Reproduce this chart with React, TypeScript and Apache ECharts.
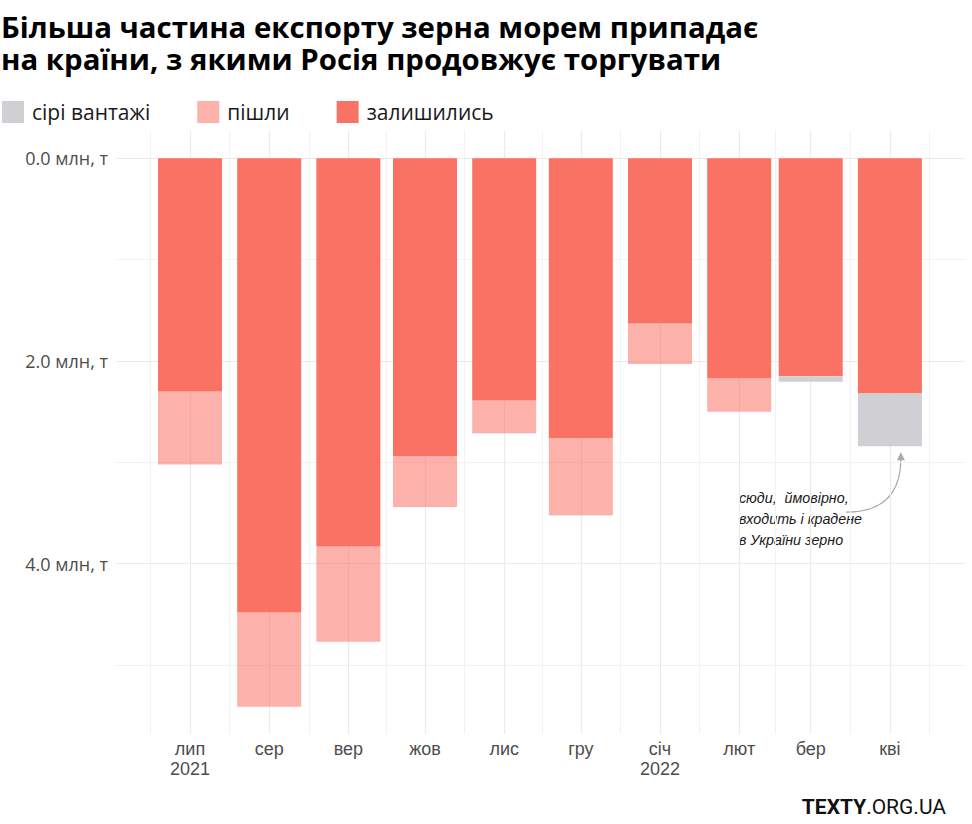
import React, { useEffect, useRef } from "react";
import * as echarts from "echarts";

const months = ["2021-07-01", "2021-08-01", "2021-09-01", "2021-10-01", "2021-11-01", "2021-12-01", "2022-01-01", "2022-02-01", "2022-03-01", "2022-04-01"];
const monthLabels = ["лип\n2021", "сер", "вер", "жов", "лис", "гру", "січ\n2022", "лют", "бер", "кві"];
const remained = [2.30, 4.48, 3.83, 2.94, 2.39, 2.76, 1.63, 2.17, 2.15, 2.32];
const gone = [0.72, 0.93, 0.94, 0.50, 0.32, 0.76, 0.40, 0.33, 0, 0];
const grey = [0, 0, 0, 0, 0.005, 0.005, 0, 0, 0.055, 0.52];
const yTicks = [0, 2, 4];
const yMinor = [1, 3, 5];
const seriesNames = ["сірі вантажі", "пішли", "залишились"];
const title = "Більша частина експорту зерна морем припадає\nна країни, з якими Росія продовжує торгувати";
const noteLines = ["сюди,  ймовірно,", "входить і крадене", "в України зерно"];

const DAY = 86400000;
const ts = months.map((m) => Date.parse(m + "T00:00:00Z"));
const xs = ts.map((t) => (t - ts[0]) / DAY);
const minorXs = [xs[0] - (xs[1] - xs[0]) / 2, ...xs.slice(1).map((x, i) => (x + xs[i]) / 2), xs[xs.length - 1] + (xs[xs.length - 1] - xs[xs.length - 2]) / 2];
const X_MIN = -28.97;
const X_MAX = 303.4;

const C_RED = "#f97264";
const C_LIGHT = "rgba(249,114,100,0.55)";
const C_GREY = "#d0cfd4";
const BAR_W = 64;

// stacked ranges [x, lower, upper], from the top (0) downward
const redData = xs.map((x, i) => [x, 0, remained[i]]);
const lightData = xs.map((x, i) => [x, remained[i], remained[i] + gone[i]]);
const greyData = xs.map((x, i) => [x, remained[i] + gone[i], remained[i] + gone[i] + grey[i]]);

function barRenderer(color: string) {
  return (params: any, api: any) => {
    const x = api.value(0);
    const a = api.coord([x, api.value(1)]);
    const b = api.coord([x, api.value(2)]);
    const h = b[1] - a[1];
    if (h <= 0) return null;
    return {
      type: "rect",
      shape: { x: a[0] - BAR_W / 2, y: a[1], width: BAR_W, height: h },
      style: { fill: color },
    };
  };
}

export default function App() {
  const ref = useRef<HTMLDivElement>(null);
  useEffect(() => {
    if (!ref.current) return;
    const chart = echarts.init(ref.current, null, { renderer: "svg" });
    const barSeries = (name: string, color: string, data: number[][]) => ({
      type: "custom",
      name,
      silent: true,
      z: 2,
      itemStyle: { color },
      encode: { x: 0, y: [1, 2] },
      renderItem: barRenderer(color),
      data,
    });
    const option: any = {
      animation: false,
      backgroundColor: "#ffffff",
      title: {
        text: title,
        left: 1,
        top: 11,
        padding: 0,
        textStyle: { fontFamily: "Open Sans", fontWeight: "bold", fontSize: 29.4, lineHeight: 32, color: "#000" },
      },
      legend: {
        data: seriesNames,
        left: 2,
        top: 101,
        padding: 0,
        itemWidth: 22,
        itemHeight: 22,
        itemGap: 47,
        icon: "rect",
        selectedMode: false,
        textStyle: { fontFamily: "Open Sans", fontSize: 21, color: "#1a1a1a", padding: [0, 0, 0, 3] },
      },
      grid: { left: 116, right: 7, top: 131, bottom: 90, containLabel: false },
      xAxis: {
        type: "value",
        min: X_MIN,
        max: X_MAX,
        axisLine: { show: false },
        axisTick: { show: false },
        splitLine: { show: false },
        axisLabel: {
          customValues: xs,
          formatter: (v: number) => {
            const i = xs.findIndex((x) => Math.abs(x - v) < 0.01);
            return i >= 0 ? monthLabels[i] : "";
          },
          fontFamily: "Liberation Sans",
          fontSize: 18,
          lineHeight: 20,
          color: "#4d4d4d",
          margin: 5,
        },
      },
      yAxis: {
        type: "value",
        inverse: true,
        min: -0.27,
        max: 5.68,
        axisLine: { show: false },
        axisTick: { show: false },
        splitLine: { show: false },
        axisLabel: {
          customValues: yTicks,
          formatter: (v: number) => v.toFixed(1) + " млн, т",
          fontFamily: "Open Sans",
          fontSize: 18,
          color: "#4d4d4d",
          margin: 8,
        },
      },
      series: [
        {
          type: "line",
          data: [],
          silent: true,
          z: 1,
          markLine: {
            silent: true,
            symbol: "none",
            z: 1,
            label: { show: false },
            data: [
              ...minorXs.map((x) => ({ xAxis: x, lineStyle: { color: "#f2f2f2", width: 1, type: "solid" } })),
              ...yMinor.map((y) => ({ yAxis: y, lineStyle: { color: "#f2f2f2", width: 1, type: "solid" } })),
              ...xs.map((x) => ({ xAxis: x, lineStyle: { color: "#ebebeb", width: 1.2, type: "solid" } })),
              ...yTicks.map((y) => ({ yAxis: y, lineStyle: { color: "#ebebeb", width: 1.2, type: "solid" } })),
            ],
          },
        },
        barSeries(seriesNames[2], C_RED, redData),
        barSeries(seriesNames[1], C_LIGHT, lightData),
        barSeries(seriesNames[0], C_GREY, greyData),
      ],
    };
    chart.setOption(option);

    const li = xs.length - 1;
    const total = remained[li] + gone[li] + grey[li];
    const p = chart.convertToPixel({ xAxisIndex: 0, yAxisIndex: 0 }, [xs[li], total]) as number[];
    const tx = p[0] + 11;
    const ty = p[1] + 6;
    const noteStyle = { fontFamily: "Liberation Sans", fontStyle: "italic", fontSize: 14.3, fill: "#1a1a1a" };
    chart.setOption({
      graphic: [
        {
          type: "bezierCurve",
          silent: true,
          shape: { x1: tx - 55, y1: ty + 60, cpx1: tx - 22, cpy1: ty + 60, cpx2: tx, cpy2: ty + 46, x2: tx, y2: ty + 6 },
          style: { stroke: "#aaaaaa", lineWidth: 1.2, fill: null },
        },
        {
          type: "polygon",
          silent: true,
          shape: { points: [[tx, ty], [tx - 4, ty + 8], [tx + 4, ty + 8]] },
          style: { fill: "#aaaaaa" },
        },
        ...noteLines.map((t, i) => ({
          type: "text",
          silent: true,
          x: tx - 162,
          y: ty + 46 + i * 21,
          style: { ...noteStyle, text: t, verticalAlign: "middle" },
        })),
        {
          type: "text",
          silent: true,
          right: 26,
          top: 796,
          style: {
            text: "{b|TEXTY}{r|.ORG.UA}",
            rich: {
              b: { fontFamily: "Roboto", fontWeight: "bold", fontSize: 21, fill: "#111" },
              r: { fontFamily: "Roboto", fontWeight: "normal", fontSize: 21, fill: "#111" },
            },
          },
        },
      ],
    });
    return () => chart.dispose();
  }, []);
  return <div ref={ref} style={{ position: "absolute", left: 0, top: 0, width: 972, height: 824 }} />;
}
